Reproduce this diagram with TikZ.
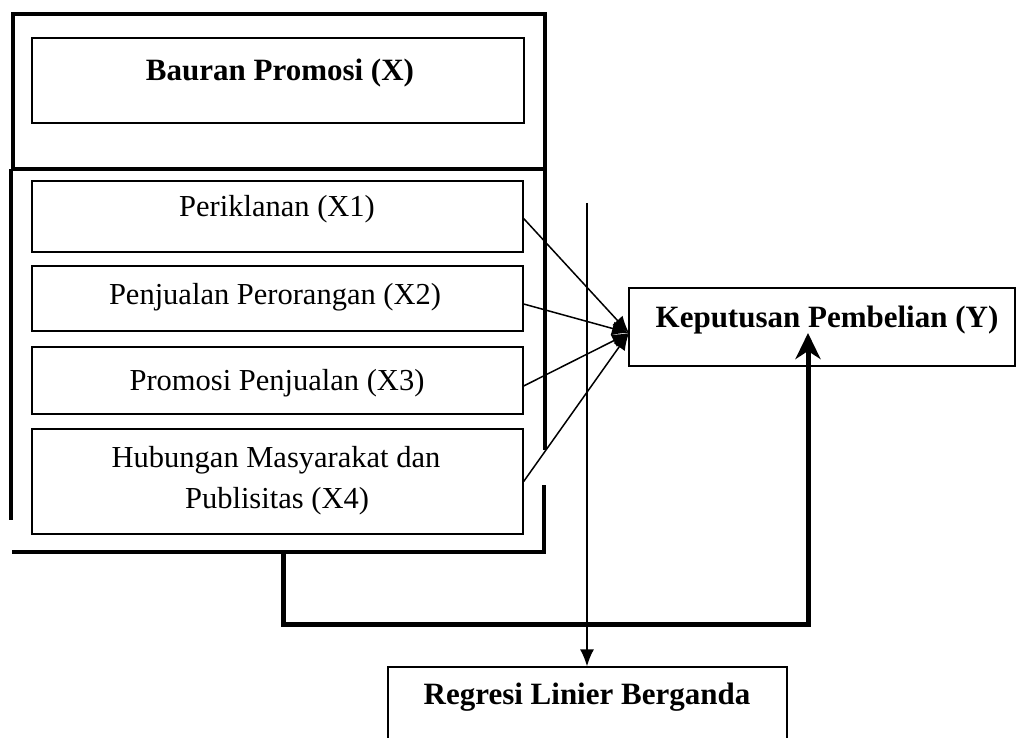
\documentclass[tikz,border=0pt]{standalone}
\usepackage{fontspec}
\setmainfont{Liberation Serif}
\usetikzlibrary{arrows.meta}
\begin{document}
\begin{tikzpicture}[x=1pt,y=-1pt,
  frame/.style={line width=4.6pt},
  box/.style={draw, line width=1.3pt, inner sep=0pt, minimum width=491pt},
  txt/.style={font=\fontsize{30.5}{41}\selectfont, anchor=base, inner sep=0pt},
  btxt/.style={font=\fontsize{31}{41}\selectfont\bfseries, anchor=base, inner sep=0pt},
  link/.style={line width=1.5pt, -{Latex[length=17pt,width=14pt]}},
  heavylink/.style={line width=5pt, line join=miter, -{Stealth[length=26pt,width=25pt,inset=8pt]}}]
\useasboundingbox (0,0) rectangle (1018,738);

% outer frame
\draw[frame] (13,14) rectangle (545,169);
\draw[frame] (11,169) -- (11,520);
\draw[frame] (545,169) -- (545,450);
\draw[frame, line join=miter] (12,552) -- (544,552) -- (544,485);

% boxes
\node[box, minimum width=492pt, minimum height=85pt] (bx) at (278,80.5) {};
\node[box, minimum height=71pt] (x1) at (277.5,216.5) {};
\node[box, minimum height=65pt] (x2) at (277.5,298.5) {};
\node[box, minimum height=67pt] (x3) at (277.5,380.5) {};
\node[box, minimum height=105pt] (x4) at (277.5,481.5) {};
\node[box, minimum width=386pt, minimum height=78pt] (y) at (822,327) {};
\node[box, minimum width=399pt, minimum height=140pt] (reg) at (587.5,737) {};

% texts
\node[btxt] at (280,81) {Bauran Promosi (X)};
\node[txt] at (277,217) {Periklanan (X1)};
\node[txt] at (275,305) {Penjualan Perorangan (X2)};
\node[txt] at (277,390) {Promosi Penjualan (X3)};
\node[txt] at (276,467) {Hubungan Masyarakat dan};
\node[txt] at (277,508) {Publisitas (X4)};
\node[btxt] at (827,327) {Keputusan Pembelian (Y)};
\node[btxt] at (587,704) {Regresi Linier Berganda};

% converging links
\coordinate (yin) at (629,333);
\draw[link] ([yshift=-2pt]x1.east) -- (yin);
\draw[link] ([yshift=-5.5pt]x2.east) -- (yin);
\draw[link] ([yshift=-5.5pt]x3.east) -- (yin);
\draw[link] (x4.east) -- (yin);

% thin vertical line to regression
\coordinate (vtop) at (587,203);
\draw[link] (vtop) -- (reg.north -| vtop);

% heavy bracket from frame to Y
\coordinate (fb) at (283,552);
\coordinate (yup) at (808,333);
\draw[heavylink] (fb) -- (283,624) -- (808,624) -- (yup);
\end{tikzpicture}
\end{document}
